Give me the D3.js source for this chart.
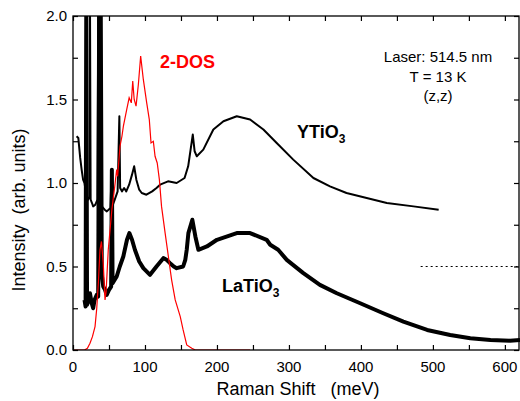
<!DOCTYPE html>
<html>
<head>
<meta charset="utf-8">
<script src="https://cdn.jsdelivr.net/npm/d3@7"></script>
<style>
  body { margin: 0; background: #fff; }
  svg { display: block; font-family: "Liberation Sans", Arial, sans-serif; }
</style>
</head>
<body>
<div id="chart"></div>
<script>
// Data: [Raman shift (meV), intensity]
const ytio3 = [
  [5, 1.28], [7.4, 1.27], [10, 1.15], [12, 1.08], [14, 1.02], [16, 1.0], [17.3, 0.96],
  [18, 2.1], [18.8, 0.92], [21, 0.9], [23, 0.92], [23.6, 2.1], [24.5, 0.9],
  [26.4, 0.88], [28, 0.86], [31, 0.87], [34, 0.9], [35, 2.1], [36.5, 2.1],
  [37.5, 1.0], [40, 0.86], [44, 0.84], [47, 0.83], [52, 0.85], [53.8, 1.08],
  [54.6, 0.86], [58, 0.9], [62, 0.95], [64.4, 1.4], [65.5, 0.97], [68, 0.95],
  [71, 0.97], [74, 0.95], [78, 0.99], [82, 1.05], [85, 1.1], [88, 1.02],
  [92, 0.96], [95.5, 0.94], [102, 0.93], [110, 0.95], [116, 0.97], [121, 0.99],
  [132, 1.01], [144, 1.0], [155, 1.03], [160, 1.1], [166.4, 1.29], [169, 1.19],
  [172, 1.16], [181, 1.2], [195, 1.32], [209, 1.37], [227.5, 1.4], [246, 1.38],
  [264.5, 1.32], [283, 1.24], [306, 1.14], [334, 1.03], [357, 0.98], [380, 0.94],
  [408, 0.91], [436, 0.88], [473, 0.86], [508, 0.84]
];

const latio3 = [
  [16, 0.3], [17.5, 0.26], [18.5, 2.1], [19.5, 0.27], [22, 0.3], [23.6, 0.34],
  [26, 0.28], [28, 0.25], [30, 0.3], [33, 0.33], [35, 0.32], [36.5, 2.1],
  [38.5, 2.1], [40, 0.45], [42, 0.38], [44.5, 0.36], [46.8, 0.33], [50, 0.36],
  [53, 0.38], [54, 1.08], [55, 0.4], [60.7, 0.44], [65, 0.5], [69.9, 0.56],
  [75, 0.66], [78.3, 0.7], [82, 0.66], [86, 0.6], [92, 0.53], [97.7, 0.49],
  [107, 0.45], [116, 0.5], [125.5, 0.55], [130, 0.54], [134.8, 0.52], [140, 0.5],
  [144, 0.49], [153, 0.5], [156, 0.54], [158, 0.6], [160.3, 0.7], [165.8, 0.78],
  [170, 0.68], [174.2, 0.6], [186, 0.62], [200, 0.66], [227.5, 0.7], [246, 0.7],
  [269, 0.66], [274, 0.63], [285, 0.6], [297, 0.54], [320, 0.46], [343, 0.39],
  [366.5, 0.34], [399, 0.28], [431, 0.22], [459, 0.17], [492, 0.12], [524, 0.09],
  [552, 0.07], [580, 0.06], [607, 0.056], [621, 0.06]
];

const dos2 = [
  [0, 0], [16, 0], [20, 0.01], [23.6, 0.04], [27, 0.08], [30.6, 0.14], [33, 0.25],
  [35.2, 0.4], [37.5, 0.6], [39.5, 0.65], [42, 0.52], [44.5, 0.3], [46, 0.35],
  [49, 0.6], [54, 0.84], [58, 0.98], [60.7, 1.08], [62, 1.04], [65.3, 1.22],
  [68, 1.28], [70, 1.34], [74.6, 1.44], [78, 1.51], [81, 1.48], [83, 1.61],
  [85, 1.5], [87.6, 1.46], [90.8, 1.59], [94, 1.76], [97.7, 1.62], [102.4, 1.48],
  [106, 1.38], [108.4, 1.24], [111.6, 1.25], [114, 1.16], [117, 1.12], [120, 1.02],
  [123, 0.86], [128, 0.7], [132.5, 0.56], [137, 0.42], [142, 0.3], [149, 0.2],
  [153, 0.12], [158, 0.03], [165, 0.01], [170, 0], [246, 0]
];

// Dotted reference segment at 0.5
const refLine = [[483, 0.5], [621, 0.5]];

const xTicks = [0, 100, 200, 300, 400, 500, 600];
const yTicks = [0, 0.5, 1.0, 1.5, 2.0];
const infoLines = ["Laser: 514.5 nm", "T = 13 K", "(z,z)"];

const width = 520, height = 401;
const margin = { top: 16, right: 0, bottom: 51, left: 73 };

const svg = d3.select("#chart").append("svg")
  .attr("width", width)
  .attr("height", height);

// Scales
const x = d3.scaleLinear().domain([0, 621]).range([margin.left, width - margin.right]);
const y = d3.scaleLinear().domain([0, 2]).range([height - margin.bottom, margin.top]);

svg.append("clipPath").attr("id", "plot")
  .append("rect")
  .attr("x", x(0)).attr("y", y(2))
  .attr("width", x(621) - x(0)).attr("height", y(0) - y(2));

const line = d3.line().x(d => x(d[0])).y(d => y(d[1]));
const g = svg.append("g").attr("clip-path", "url(#plot)");

g.append("path").datum(latio3)
  .attr("fill", "none").attr("stroke", "#000").attr("stroke-width", 4)
  .attr("stroke-linejoin", "round").attr("d", line);

g.append("path").datum(ytio3)
  .attr("fill", "none").attr("stroke", "#000").attr("stroke-width", 2)
  .attr("stroke-linejoin", "round").attr("d", line);

g.append("path").datum(dos2)
  .attr("fill", "none").attr("stroke", "#ff0000").attr("stroke-width", 1.2)
  .attr("d", line);

g.append("path").datum(refLine)
  .attr("fill", "none").attr("stroke", "#000").attr("stroke-width", 1)
  .attr("stroke-dasharray", "2,3").attr("d", line);

// Axes with inward ticks (major + minor)
const xMinor = d3.range(0, 621, 50);
const yMinor = d3.range(0, 2.01, 0.25);

function noDomainLabels(sel) { sel.select(".domain").remove(); sel.selectAll("text").remove(); }

svg.append("g").attr("transform", `translate(0,${y(0)})`)
  .call(d3.axisTop(x).tickValues(xMinor).tickSize(5).tickFormat(""))
  .call(noDomainLabels);
svg.append("g").attr("transform", `translate(0,${y(2)})`)
  .call(d3.axisBottom(x).tickValues(xMinor).tickSize(5).tickFormat(""))
  .call(noDomainLabels);
svg.append("g").attr("transform", `translate(${x(0)},0)`)
  .call(d3.axisRight(y).tickValues(yMinor).tickSize(5).tickFormat(""))
  .call(noDomainLabels);
svg.append("g").attr("transform", `translate(${x(621) - 1},0)`)
  .call(d3.axisLeft(y).tickValues(yMinor).tickSize(5).tickFormat(""))
  .call(noDomainLabels);
svg.selectAll(".tick line").attr("stroke", "#000").attr("stroke-width", 1.2);

// Frame
svg.append("rect")
  .attr("x", x(0)).attr("y", y(2))
  .attr("width", x(621) - x(0) - 1).attr("height", y(0) - y(2))
  .attr("fill", "none").attr("stroke", "#000").attr("stroke-width", 1.3);

// Tick labels
svg.append("g").selectAll("text").data(xTicks).enter().append("text")
  .attr("x", d => x(d)).attr("y", y(0) + 22)
  .attr("text-anchor", "middle").attr("font-size", 15).text(d => d);

svg.append("g").selectAll("text").data(yTicks).enter().append("text")
  .attr("x", x(0) - 6).attr("y", d => y(d) + 5)
  .attr("text-anchor", "end").attr("font-size", 15).text(d => d.toFixed(1));

// Axis titles
svg.append("text")
  .attr("x", 298).attr("y", 395).attr("text-anchor", "middle")
  .attr("font-size", 18).attr("xml:space", "preserve")
  .text("Raman Shift   (meV)");

svg.append("text")
  .attr("transform", `translate(25,210) rotate(-90)`)
  .attr("text-anchor", "middle").attr("font-size", 18).attr("xml:space", "preserve")
  .text("Intensity  (arb. units)");

// Annotations
svg.append("text")
  .attr("x", 160).attr("y", 68).attr("fill", "#ff0000")
  .attr("font-size", 18).attr("font-weight", "bold").text("2-DOS");

svg.append("g").selectAll("text").data(infoLines).enter().append("text")
  .attr("x", 438).attr("y", (d, i) => 62 + i * 19.5)
  .attr("text-anchor", "middle").attr("font-size", 15).text(d => d);

const yLabel = svg.append("text").attr("x", 297).attr("y", 138)
  .attr("font-size", 18).attr("font-weight", "bold");
yLabel.append("tspan").text("YTiO");
yLabel.append("tspan").attr("font-size", 12).attr("dy", 5).text("3");

const laLabel = svg.append("text").attr("x", 222).attr("y", 292)
  .attr("font-size", 18).attr("font-weight", "bold");
laLabel.append("tspan").text("LaTiO");
laLabel.append("tspan").attr("font-size", 12).attr("dy", 5).text("3");
</script>
</body>
</html>
